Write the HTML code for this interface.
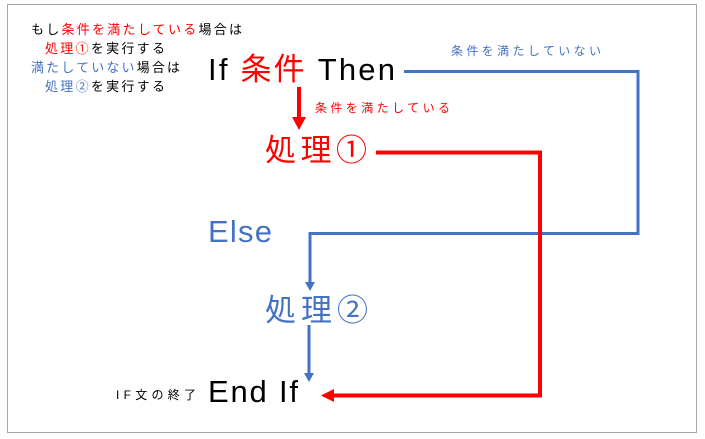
<!DOCTYPE html>
<html><head><meta charset="utf-8"><style>
html,body{margin:0;padding:0;background:#fff;}
svg{display:block;}
text{font-family:"Liberation Sans","Noto Sans CJK JP",sans-serif;}
</style></head><body>
<svg width="705" height="439" viewBox="0 0 705 439" xmlns="http://www.w3.org/2000/svg">
<rect x="7.5" y="4.5" width="689" height="428" fill="#fff" stroke="#a6a6a6" stroke-width="1"/>
<g font-size="13">
<text x="31" y="34" fill="#000" textLength="211" lengthAdjust="spacing">もし<tspan fill="#ff0000">条件を満たしている</tspan>場合は</text>
<text x="45" y="53" fill="#000" textLength="120" lengthAdjust="spacing"><tspan fill="#ff0000">処理①</tspan>を実行する</text>
<text x="31" y="72" fill="#000" textLength="149" lengthAdjust="spacing"><tspan fill="#4472c4">満たしていない</tspan>場合は</text>
<text x="45" y="91" fill="#000" textLength="120" lengthAdjust="spacing"><tspan fill="#4472c4">処理②</tspan>を実行する</text>
</g>
<text x="208" y="80" font-size="31" fill="#000" textLength="187" lengthAdjust="spacing">If <tspan fill="#ff0000">条件</tspan> Then</text>
<text x="265" y="161" font-size="31" fill="#ff0000" textLength="102" lengthAdjust="spacing">処理①</text>
<text x="208" y="242" font-size="31" fill="#4472c4" textLength="64" lengthAdjust="spacing">Else</text>
<text x="265" y="321" font-size="31" fill="#4472c4" textLength="103" lengthAdjust="spacing">処理②</text>
<text x="208" y="402" font-size="31" fill="#000" textLength="90" lengthAdjust="spacing">End If</text>
<text x="116" y="399" font-size="12" fill="#000" textLength="80" lengthAdjust="spacing">IF文の終了</text>
<text x="451" y="55" font-size="12" fill="#4472c4" textLength="150" lengthAdjust="spacing">条件を満たしていない</text>
<text x="315" y="112" font-size="12" fill="#ff0000" textLength="135" lengthAdjust="spacing">条件を満たしている</text>
<polyline points="404,71.5 638,71.5 638,233.5 310,233.5 310,283" fill="none" stroke="#4472c4" stroke-width="3"/>
<polygon points="305,282 315,282 310,291" fill="#4472c4"/>
<line x1="309" y1="325" x2="309" y2="374" stroke="#4472c4" stroke-width="3"/>
<polygon points="304,373 314,373 309,382" fill="#4472c4"/>
<line x1="299" y1="87" x2="299" y2="118" stroke="#ff0000" stroke-width="4"/>
<polygon points="292,117 306,117 299,130" fill="#ff0000"/>
<polyline points="376,152.5 540,152.5 540,395.5 332,395.5" fill="none" stroke="#ff0000" stroke-width="4"/>
<polygon points="334,389 334,402 321,395.5" fill="#ff0000"/>
</svg>
</body></html>
